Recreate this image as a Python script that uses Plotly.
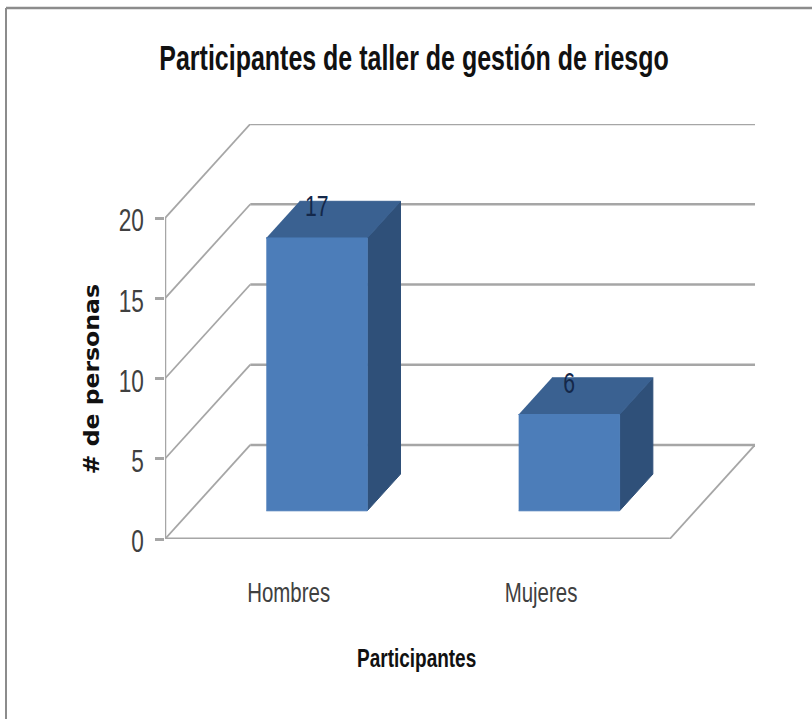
#!/usr/bin/env python
import plotly.graph_objects as go

categories = ['Hombres', 'Mujeres']
values = [17, 6]
y_ticks = [0, 5, 10, 15, 20]

title = 'Participantes de taller de gestión de riesgo'
x_title = 'Participantes'
y_title = '# de personas'

# oblique projection of the 3D box, depth runs 0 (front) .. 1 (back wall)
DEPTH_X = 0.338  # category units per full depth
DEPTH_Y = 5.86   # value units per full depth
BAR_FRONT = 0.30
BAR_BACK = 0.69
BAR_HALF = 0.2
X_MIN, X_MAX = -0.5, 1.5
Y_MAX = y_ticks[-1]

# plot area in the window
L, R, T, B = 165, 57, 124, 180
W, H = 812, 719

FONT = 'Liberation Sans'
GRID = '#a6a6a6'

# no narrow font is installed, so squeeze the text sideways once it is drawn
POST = """
document.body.style.margin = '0';
document.querySelectorAll('.main-svg text').forEach(function (t) {
  var wide = t.style.fontFamily.includes('DejaVu');
  var f = wide ? 1.07 : t.classList.contains('gtitle') ? 0.714 : 0.73;
  var tick = t.closest('.ytick');
  var b = t.getBBox();
  var cx = tick ? b.x + b.width : b.x + b.width / 2;
  var old = t.getAttribute('transform') || '';
  var drop = tick ? ' translate(0,2.5)' : '';
  t.setAttribute('transform', old + drop + ' translate(' + cx + ',0) scale(' + f + ',1) translate(' + (-cx) + ',0)');
});
"""


def project(cat, val, depth):
    return cat + depth * DEPTH_X, val + depth * DEPTH_Y


def line(points, color=GRID, width=2.5):
    xs, ys = zip(*[project(*p) for p in points])
    return go.Scatter(x=xs, y=ys, mode='lines', line=dict(color=color, width=width),
                      hoverinfo='skip', cliponaxis=False)


def face(points, color):
    xs, ys = zip(*[project(*p) for p in points])
    return go.Scatter(x=xs, y=ys, mode='lines', fill='toself', fillcolor=color,
                      line=dict(color=color, width=1), hoverinfo='skip', cliponaxis=False)


fig = go.Figure()

# walls and floor
for t in y_ticks:
    fig.add_trace(line([(X_MIN, t, 0), (X_MIN, t, 1)], width=1.8))
    fig.add_trace(line([(X_MIN, t, 1), (X_MAX, t, 1)]))
fig.add_trace(line([(X_MAX, 0, 1), (X_MAX, 0, 0)], width=1.8))
fig.add_trace(line([(X_MAX, 0, 0), (X_MIN, 0, 0)], width=3))
fig.add_trace(line([(X_MIN, 0, 0), (X_MIN, Y_MAX, 0)]))

# bars
for i, v in enumerate(values):
    x0, x1 = i - BAR_HALF, i + BAR_HALF
    fig.add_trace(face([(x1, 0, BAR_FRONT), (x1, 0, BAR_BACK), (x1, v, BAR_BACK), (x1, v, BAR_FRONT)], '#2f5079'))
    fig.add_trace(face([(x0, v, BAR_FRONT), (x1, v, BAR_FRONT), (x1, v, BAR_BACK), (x0, v, BAR_BACK)], '#3a6191'))
    fig.add_trace(face([(x0, 0, BAR_FRONT), (x1, 0, BAR_FRONT), (x1, v, BAR_FRONT), (x0, v, BAR_FRONT)], '#4c7db9'))

# value labels float just above the front edge of the top face
lx, ly = zip(*[project(i, v + 1.8, BAR_FRONT) for i, v in enumerate(values)])
fig.add_trace(go.Scatter(x=lx, y=ly, mode='text', text=[str(v) for v in values],
                         textfont=dict(family=FONT, size=29, color='#14284a'),
                         hoverinfo='skip', cliponaxis=False))


# frame runs off the right edge of the picture
def px(x):
    return (x - L) / (W - L - R)


def py(y):
    return 1 - (y - T) / (H - T - B)


fig.add_shape(type='line', xref='paper', yref='paper', x0=px(6), x1=px(812), y0=py(8), y1=py(8),
              line=dict(color='#8c8c8c', width=2.5))
fig.add_shape(type='line', xref='paper', yref='paper', x0=px(6), x1=px(6), y0=py(8), y1=py(719),
              line=dict(color='#8c8c8c', width=2))

fig.add_annotation(text=y_title, xref='paper', yref='paper', x=px(91), y=py(379), showarrow=False,
                   xanchor='center', yanchor='middle', textangle=-90,
                   font=dict(family='DejaVu Sans', size=22, color='#111111', weight='bold'))
fig.add_annotation(text=x_title, xref='paper', yref='paper', x=px(416), y=py(658), showarrow=False,
                   xanchor='center', yanchor='middle',
                   font=dict(family=FONT, size=26, color='#111111', weight='bold'))

fig.update_layout(
    width=W, height=H,
    margin=dict(l=L, r=R, t=T, b=B, pad=0),
    paper_bgcolor='white', plot_bgcolor='white',
    showlegend=False,
    title=dict(text=title, x=414 / W, y=1 - 58 / H, xanchor='center', yanchor='middle',
               font=dict(family=FONT, size=35, color='#111111', weight='bold')),
    xaxis=dict(range=[X_MIN, X_MAX + DEPTH_X], tickmode='array',
               tickvals=[i - 0.01 for i in range(len(categories))],
               ticktext=categories, showgrid=False, zeroline=False, showline=False,
               ticks='outside', ticklen=28, tickcolor='rgba(0,0,0,0)',
               tickfont=dict(family=FONT, size=28, color='#404040')),
    yaxis=dict(range=[0, Y_MAX + DEPTH_Y], tickmode='array', tickvals=y_ticks,
               showgrid=False, zeroline=False, showline=False,
               ticks='outside', ticklen=9, tickwidth=2.5, tickcolor=GRID, ticklabelstandoff=5,
               tickfont=dict(family=FONT, size=31, color='#404040')),
)

fig.write_html('out.html', post_script=POST, config=dict(displayModeBar=False))
